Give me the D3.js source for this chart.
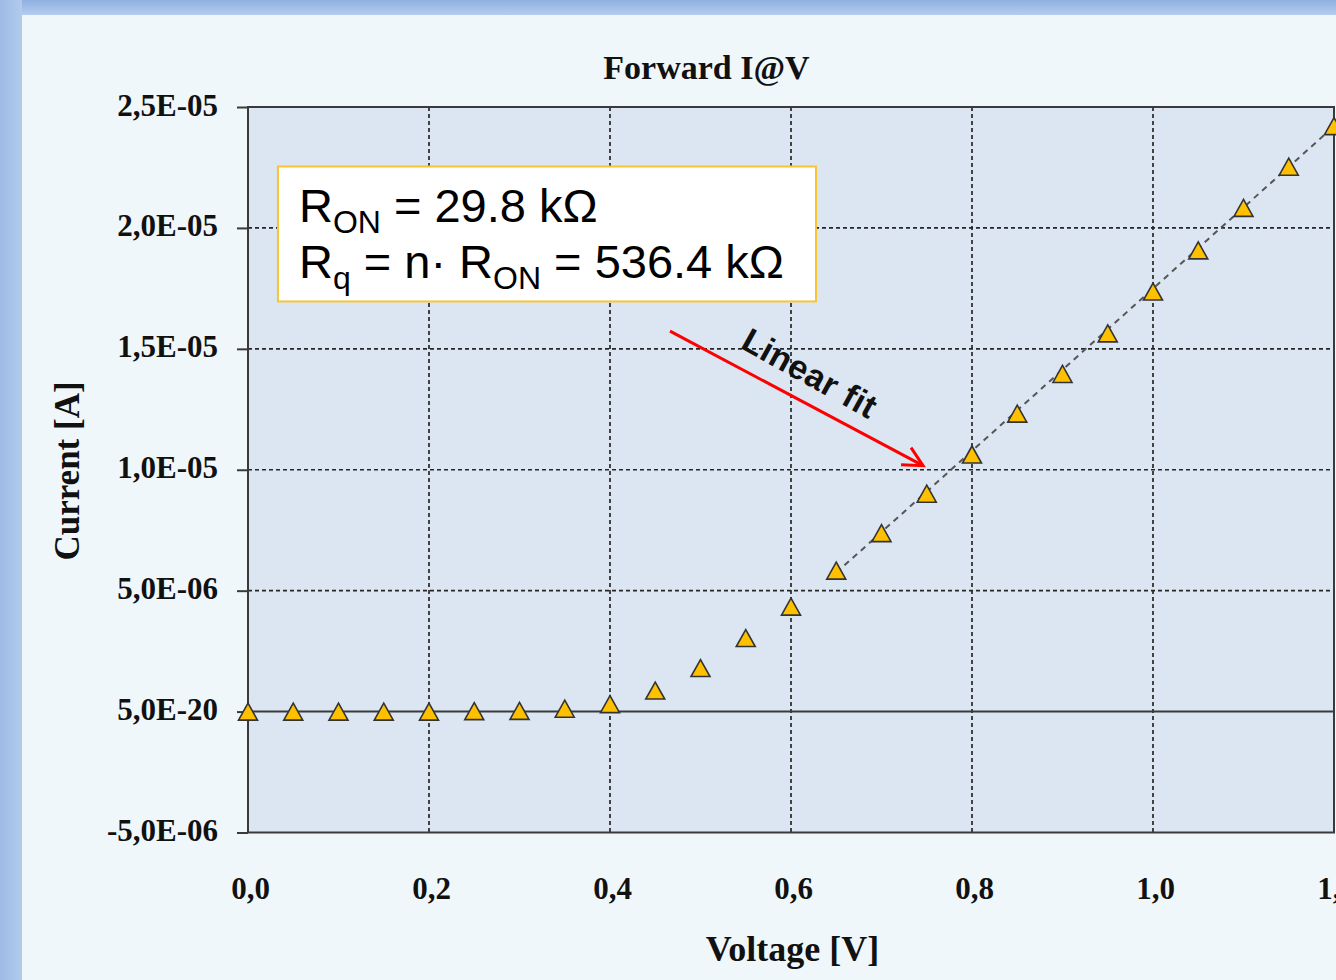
<!DOCTYPE html>
<html>
<head>
<meta charset="utf-8">
<script src="https://cdn.jsdelivr.net/npm/d3@7/dist/d3.min.js"></script>
<style>
  html, body { margin: 0; padding: 0; background: #f0f7fa; overflow: hidden; }
  svg { display: block; }
</style>
</head>
<body>
<svg id="chart" width="1336" height="980"></svg>
<script>
// ---------- data ----------
const voltage = [0.00, 0.05, 0.10, 0.15, 0.20, 0.25, 0.30, 0.35, 0.40, 0.45, 0.50, 0.55, 0.60,
                 0.65, 0.70, 0.75, 0.80, 0.85, 0.90, 0.95, 1.00, 1.05, 1.10, 1.15, 1.20];
const current = [0.00e-6, 0.00e-6, 0.00e-6, 0.00e-6, 0.00e-6, 0.02e-6, 0.03e-6, 0.12e-6, 0.31e-6,
                 0.87e-6, 1.80e-6, 3.04e-6, 4.34e-6, 5.83e-6, 7.38e-6, 9.01e-6, 10.63e-6, 12.32e-6,
                 13.96e-6, 15.64e-6, 17.37e-6, 19.07e-6, 20.83e-6, 22.53e-6, 24.21e-6];
const xTicks = [0.0, 0.2, 0.4, 0.6, 0.8, 1.0, 1.2];
const xTickLabels = ["0,0", "0,2", "0,4", "0,6", "0,8", "1,0", "1,2"];
const yTicks = [-5e-6, 0, 5e-6, 1e-5, 1.5e-5, 2e-5, 2.5e-5];
const yTickLabels = ["-5,0E-06", "5,0E-20", "5,0E-06", "1,0E-05", "1,5E-05", "2,0E-05", "2,5E-05"];
// linear fit  I = slope * V + intercept  (R_ON = 1/slope)
const fitSlope = [3.356e-5];
const fitIntercept = [-1.607e-5];
const fitRange = [0.65, 1.30];
// annotation anchors in data coordinates
const arrowFrom = [0.4663, 15.73e-6];
const arrowTo = [0.7459, 10.17e-6];
const fitLabelPos = [0.621, 14.0e-6];
const boxCorner1 = [0.0331, 22.54e-6];
const boxCorner2 = [0.6276, 16.96e-6];
const title = "Forward I@V";
const xTitle = "Voltage [V]";
const yTitle = "Current [A]";

// ---------- layout ----------
const svg = d3.select("#chart");
const W = 1336, H = 980;
const plot = { left: 248, right: 1334, top: 107, bottom: 832.5 };
const x = d3.scaleLinear().domain([0, 1.2]).range([plot.left, plot.right]);
const y = d3.scaleLinear().domain([-5e-6, 2.5e-5]).range([plot.bottom, plot.top]);

const serif = "'Liberation Serif', 'DejaVu Serif', serif";
const sans = "'Liberation Sans', Arial, sans-serif";

const defs = svg.append("defs");
const gl = defs.append("linearGradient").attr("id", "leftBar").attr("x1", 0).attr("x2", 1).attr("y1", 0).attr("y2", 0);
gl.append("stop").attr("offset", "0%").attr("stop-color", "#9dbbe6");
gl.append("stop").attr("offset", "100%").attr("stop-color", "#b1cbec");
const gt = defs.append("linearGradient").attr("id", "topBar").attr("x1", 0).attr("x2", 0).attr("y1", 0).attr("y2", 1);
gt.append("stop").attr("offset", "0%").attr("stop-color", "#8fb0e2");
gt.append("stop").attr("offset", "100%").attr("stop-color", "#b5cdee");
defs.append("clipPath").attr("id", "plotClip").append("rect")
  .attr("x", plot.left).attr("y", plot.top)
  .attr("width", plot.right - plot.left).attr("height", plot.bottom - plot.top);

// page background + slide borders
svg.append("rect").attr("width", W).attr("height", H).attr("fill", "#f0f7fa");
svg.append("rect").attr("x", 0).attr("y", 0).attr("width", W).attr("height", 15).attr("fill", "url(#topBar)");
svg.append("rect").attr("x", 0).attr("y", 0).attr("width", 22).attr("height", H).attr("fill", "url(#leftBar)");

// plot area
svg.append("rect").attr("x", plot.left).attr("y", plot.top)
  .attr("width", plot.right - plot.left).attr("height", plot.bottom - plot.top)
  .attr("fill", "#dce6f2");

// gridlines
const grid = svg.append("g");
grid.selectAll(".vg").data(xTicks.filter(t => t > 0 && t < 1.2)).enter().append("line")
  .attr("x1", d => x(d)).attr("x2", d => x(d)).attr("y1", plot.top).attr("y2", plot.bottom)
  .attr("stroke", "#262626").attr("stroke-width", 1.7).attr("stroke-dasharray", "4,3");
grid.selectAll(".hg").data(yTicks.filter(t => t > 0 && t < 2.5e-5)).enter().append("line")
  .attr("x1", plot.left).attr("x2", plot.right).attr("y1", d => y(d)).attr("y2", d => y(d))
  .attr("stroke", "#262626").attr("stroke-width", 1.7).attr("stroke-dasharray", "4,3");
// zero line
svg.append("line").attr("x1", plot.left).attr("x2", plot.right).attr("y1", y(0)).attr("y2", y(0))
  .attr("stroke", "#3a3a3a").attr("stroke-width", 2);

// frame
svg.append("rect").attr("x", plot.left).attr("y", plot.top)
  .attr("width", plot.right - plot.left).attr("height", plot.bottom - plot.top)
  .attr("fill", "none").attr("stroke", "#3a3a3a").attr("stroke-width", 2);

// y axis (ticks and labels)
const yAxis = d3.axisLeft(y).tickValues(yTicks).tickSize(11).tickPadding(19)
  .tickFormat((d, i) => yTickLabels[i]);
const gy = svg.append("g").attr("transform", `translate(${plot.left},0)`).call(yAxis);
gy.select(".domain").remove();
gy.selectAll(".tick line").attr("stroke", "#3a3a3a").attr("stroke-width", 2);
gy.selectAll(".tick text").attr("font-family", serif).attr("font-weight", "bold")
  .attr("font-size", 31).attr("fill", "#111").attr("dy", "0.26em");

// x axis (labels only)
const xAxis = d3.axisBottom(x).tickValues(xTicks).tickSize(0).tickPadding(44)
  .tickFormat((d, i) => xTickLabels[i]);
const gx = svg.append("g").attr("transform", `translate(2,${plot.bottom})`).call(xAxis);
gx.select(".domain").remove();
gx.selectAll(".tick text").attr("font-family", serif).attr("font-weight", "bold")
  .attr("font-size", 31).attr("fill", "#111").attr("dy", "0.71em");

// linear fit
const fitLine = d3.line().x(d => x(d)).y(d => y(fitSlope[0] * d + fitIntercept[0]));
svg.append("path").datum(fitRange).attr("d", fitLine)
  .attr("clip-path", "url(#plotClip)")
  .attr("fill", "none").attr("stroke", "#555").attr("stroke-width", 2).attr("stroke-dasharray", "6,5");

// markers
const tri = (w, h) => `M0,${-h / 2}L${w / 2},${h / 2}L${-w / 2},${h / 2}Z`;
svg.append("g").selectAll("path").data(voltage.map((v, i) => [v, current[i]])).enter().append("path")
  .attr("transform", d => `translate(${x(d[0])},${y(d[1])})`)
  .attr("d", tri(19, 17))
  .attr("fill", "#ffc000").attr("stroke", "#333333").attr("stroke-width", 1.6).attr("stroke-linejoin", "miter");

// annotation box
const bx1 = x(boxCorner1[0]), by1 = y(boxCorner1[1]);
const bx2 = x(boxCorner2[0]), by2 = y(boxCorner2[1]);
svg.append("rect").attr("x", bx1).attr("y", by1).attr("width", bx2 - bx1).attr("height", by2 - by1)
  .attr("fill", "#ffffff").attr("stroke", "#f8c430").attr("stroke-width", 2);
const t1 = svg.append("text").attr("x", bx1 + 21).attr("y", by1 + 56)
  .attr("font-family", sans).attr("font-size", 47).attr("fill", "#000");
t1.append("tspan").text("R");
t1.append("tspan").attr("font-size", 32).attr("dy", 11).text("ON");
t1.append("tspan").attr("dy", -11).text(" = 29.8 kΩ");
const t2 = svg.append("text").attr("x", bx1 + 21).attr("y", by1 + 112)
  .attr("font-family", sans).attr("font-size", 47).attr("fill", "#000");
t2.append("tspan").text("R");
t2.append("tspan").attr("font-size", 32).attr("dy", 11).text("q");
t2.append("tspan").attr("dy", -11).text(" = n· R");
t2.append("tspan").attr("font-size", 32).attr("dy", 11).text("ON");
t2.append("tspan").attr("dy", -11).text(" = 536.4 kΩ");

// red arrow
const ax1 = x(arrowFrom[0]), ay1 = y(arrowFrom[1]);
const ax2 = x(arrowTo[0]), ay2 = y(arrowTo[1]);
svg.append("line").attr("x1", ax1).attr("y1", ay1).attr("x2", ax2).attr("y2", ay2)
  .attr("stroke", "#ff0000").attr("stroke-width", 3);
svg.append("path")
  .attr("d", `M${ax2 - 12},${ay2 - 18}L${ax2},${ay2}L${ax2 - 22},${ay2 - 1}`)
  .attr("fill", "none").attr("stroke", "#ff0000").attr("stroke-width", 3).attr("stroke-linejoin", "miter");

// "Linear fit" label
svg.append("text")
  .attr("transform", `translate(${x(fitLabelPos[0])},${y(fitLabelPos[1])}) rotate(29)`)
  .attr("text-anchor", "middle").attr("dominant-baseline", "central")
  .attr("font-family", sans).attr("font-weight", "bold").attr("font-size", 34)
  .attr("letter-spacing", 0.5).attr("fill", "#111").text("Linear fit");

// titles
svg.append("text").attr("x", 706.5).attr("y", 79).attr("text-anchor", "middle")
  .attr("font-family", serif).attr("font-weight", "bold").attr("font-size", 34).attr("fill", "#111")
  .text(title);
svg.append("text").attr("x", 792.5).attr("y", 961).attr("text-anchor", "middle")
  .attr("font-family", serif).attr("font-weight", "bold").attr("font-size", 36).attr("fill", "#111")
  .text(xTitle);
svg.append("text").attr("transform", "translate(79,471) rotate(-90)").attr("text-anchor", "middle")
  .attr("font-family", serif).attr("font-weight", "bold").attr("font-size", 35).attr("fill", "#111")
  .text(yTitle);
</script>
</body>
</html>
